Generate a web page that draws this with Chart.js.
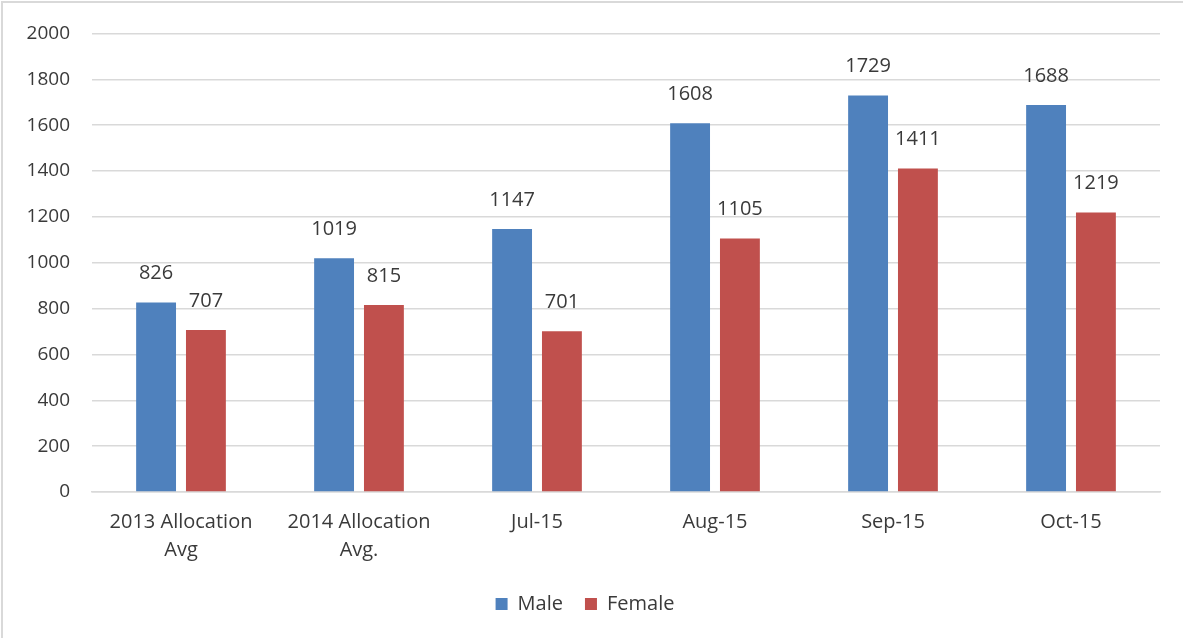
<!DOCTYPE html>
<html>
<head>
<meta charset="utf-8">
<script src="https://cdn.jsdelivr.net/npm/chart.js@4"></script>
<style>
  html, body { margin: 0; padding: 0; background: #fff; }
  #wrap { position: relative; width: 1183px; height: 638px; overflow: hidden; }
  #frame { position: absolute; left: 1px; top: 1px; width: 1300px; height: 700px;
           border: 2px solid #d9d9d9; box-sizing: border-box; }
  canvas { position: absolute; left: 0; top: 0; }
</style>
</head>
<body>
<div id="wrap">
  <div id="frame"></div>
  <canvas id="chart" width="1183" height="638"></canvas>
</div>
<script>
const categories = [["2013 Allocation", "Avg"], ["2014 Allocation", "Avg."], "Jul-15", "Aug-15", "Sep-15", "Oct-15"];
const maleValues = [826, 1019, 1147, 1608, 1729, 1688];
const femaleValues = [707, 815, 701, 1105, 1411, 1219];
const yTicks = [0, 200, 400, 600, 800, 1000, 1200, 1400, 1600, 1800, 2000];

const FONT = "'Open Sans', 'Noto Sans', sans-serif";

// draw value labels above each bar
const barLabels = {
  id: "barLabels",
  afterDatasetsDraw(chart) {
    const ctx = chart.ctx;
    ctx.save();
    ctx.font = "20px " + FONT;
    ctx.fillStyle = "#3a3a3a";
    ctx.textAlign = "center";
    ctx.textBaseline = "bottom";
    chart.data.datasets.forEach((ds, i) => {
      chart.getDatasetMeta(i).data.forEach((bar, j) => {
        ctx.fillText(ds.data[j], bar.x, bar.y - 19);
      });
    });
    ctx.restore();
  }
};

new Chart(document.getElementById("chart").getContext("2d"), {
  type: "bar",
  data: {
    labels: categories,
    datasets: [
      { label: "Male", data: maleValues, backgroundColor: "#4f81bd" },
      { label: "Female", data: femaleValues, backgroundColor: "#c0504d" }
    ]
  },
  options: {
    responsive: false,
    animation: false,
    layout: { padding: { top: 22, left: 10, right: 23, bottom: 14 } },
    datasets: { bar: { categoryPercentage: 0.56, barPercentage: 0.8 } },
    plugins: {
      legend: {
        position: "bottom",
        labels: {
          boxWidth: 12, boxHeight: 12, padding: 22,
          color: "#3a3a3a",
          font: { family: FONT, size: 20 }
        }
      },
      tooltip: { enabled: false }
    },
    scales: {
      x: {
        grid: { display: false },
        border: { color: "#d9d9d9", width: 1.5 },
        ticks: { color: "#3a3a3a", font: { family: FONT, size: 20, lineHeight: 1.4 }, maxRotation: 0, padding: 8 }
      },
      y: {
        min: 0, max: 2000,
        afterBuildTicks: (scale) => { scale.ticks = yTicks.map(v => ({ value: v })); },
        afterFit: (scale) => { scale.width = 82; },
        grid: { color: "#d9d9d9", lineWidth: 1.5, drawTicks: false },
        border: { display: false },
        ticks: { color: "#3a3a3a", font: { family: FONT, size: 19 }, padding: 22, callback: (v) => String(v) }
      }
    }
  },
  plugins: [barLabels]
});
</script>
</body>
</html>
